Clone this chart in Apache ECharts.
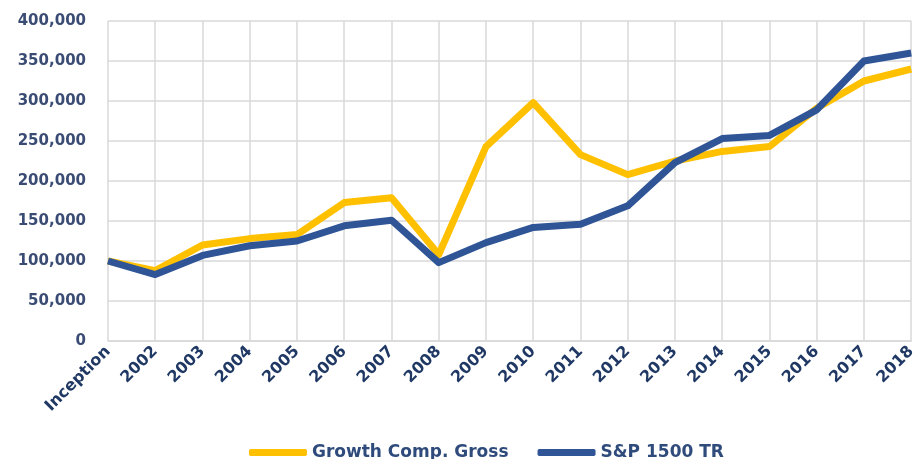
<!DOCTYPE html>
<html>
<head>
<meta charset="utf-8">
<script src="https://cdn.jsdelivr.net/npm/echarts@6/dist/echarts.min.js"></script>
<style>
html,body{margin:0;padding:0;background:#fff;}
#chart{width:919px;height:459px;}
</style>
</head>
<body>
<div id="chart"></div>
<script>
const categories = ['Inception','2002','2003','2004','2005','2006','2007','2008','2009','2010','2011','2012','2013','2014','2015','2016','2017','2018'];
const growthGross = [100000, 88000, 120000, 128000, 133000, 173000, 179000, 108000, 243000, 298000, 233000, 208000, 225000, 237000, 243000, 291000, 325000, 340000];
const sp1500 = [100000, 83000, 107000, 119000, 125000, 144000, 151000, 98000, 123000, 142000, 146000, 169000, 223000, 253000, 257000, 289000, 350000, 360000];
const seriesNames = ['Growth Comp. Gross', 'S&P 1500 TR'];

const chart = echarts.init(document.getElementById('chart'));
const font = 'DejaVu Sans';
chart.setOption({
  animation: false,
  grid: {left: 108, right: 6, top: 21, bottom: 118, containLabel: false},
  legend: {
    bottom: -7,
    left: 244,
    itemWidth: 58,
    itemHeight: 7,
    itemGap: 29,
    icon: 'roundRect',
    textStyle: {fontFamily: font, fontWeight: 'bold', fontSize: 17, color: '#2F4B7C'},
    data: seriesNames
  },
  xAxis: {
    type: 'category',
    data: categories,
    boundaryGap: false,
    axisLine: {lineStyle: {color: '#D9D9D9', width: 1.5}},
    axisTick: {show: false},
    splitLine: {show: true, lineStyle: {color: '#D9D9D9', width: 1.5}},
    axisLabel: {rotate: 45, margin: 8, interval: 0, fontFamily: font, fontWeight: 'bold', fontSize: 16, color: '#1F3864'}
  },
  yAxis: {
    type: 'value',
    min: 0, max: 400000, interval: 50000,
    axisLine: {show: false},
    axisTick: {show: false},
    splitLine: {lineStyle: {color: '#D9D9D9', width: 1.5}},
    axisLabel: {
      margin: 22,
      fontFamily: font, fontWeight: 'bold', fontSize: 15, color: '#3B4C74',
      formatter: v => v.toLocaleString('en-US')
    }
  },
  series: [
    {name: seriesNames[0], type: 'line', data: growthGross, symbol: 'none', lineStyle: {color: '#FFC000', width: 7, join: 'round'}, itemStyle: {color: '#FFC000'}},
    {name: seriesNames[1], type: 'line', data: sp1500, symbol: 'none', lineStyle: {color: '#2F5597', width: 7, join: 'round'}, itemStyle: {color: '#2F5597'}}
  ]
});
</script>
</body>
</html>
